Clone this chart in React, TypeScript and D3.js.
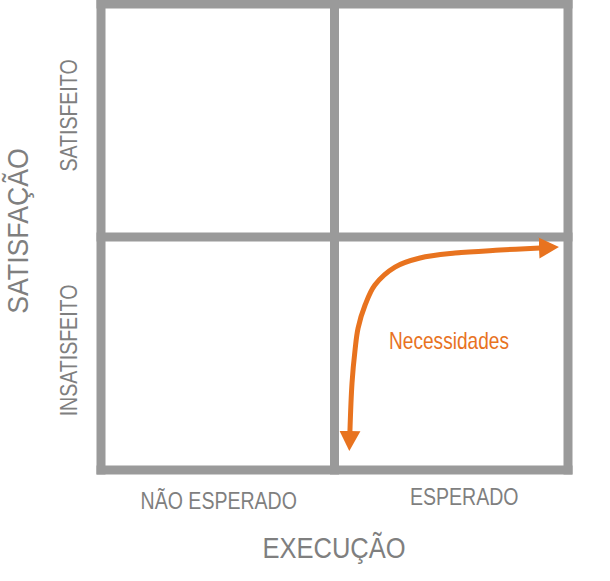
import React from 'react'
import * as d3 from 'd3'

// quadrant categories
const execucao = ['NÃO ESPERADO', 'ESPERADO']
const satisfacao = ['INSATISFEITO', 'SATISFEITO']
const xTitle = 'EXECUÇÃO'
const yTitle = 'SATISFAÇÃO'
const curveLabel = 'Necessidades'

// "Necessidades" curve, in quadrant units (0..2 on each axis)
const curveX = [1.066, 1.075, 1.088, 1.101, 1.131, 1.173, 1.259, 1.366, 1.516, 1.709, 1.88]
const curveY = [0.163, 0.373, 0.515, 0.609, 0.708, 0.794, 0.871, 0.91, 0.931, 0.944, 0.953]

const W = 610
const H = 581
const GRID = '#9a9a9a'
const TEXT = '#7f7f7f'
const ORANGE = '#e8731f'
const FONT = '"Liberation Sans", Arial, sans-serif'
const NARROW = 0.85 // no narrow font installed, squeeze the regular one

export default function App() {
  const x = d3.scaleLinear().domain([0, 2]).range([101, 568])
  const y = d3.scaleLinear().domain([0, 2]).range([470, 4])

  const xBand = d3.scaleBand().domain(execucao).range([101, 568])
  const yBand = d3.scaleBand().domain(satisfacao).range([470, 4])

  const pts: [number, number][] = curveX.map((v, i) => [x(v), y(curveY[i])])
  const line = d3.line().curve(d3.curveCatmullRom.alpha(0.5))

  const ticks = [0, 1, 2]

  return (
    <svg
      width={W}
      height={H}
      style={{ position: 'absolute', left: 0, top: 0, background: '#fff' }}
      fontFamily={FONT}
    >
      <defs>
        <marker
          id="arrow"
          markerUnits="userSpaceOnUse"
          markerWidth={22}
          markerHeight={22}
          viewBox="0 -11 22 22"
          refX={1}
          refY={0}
          orient="auto-start-reverse"
        >
          <path d="M0,-10.5L20,0L0,10.5Z" fill={ORANGE} />
        </marker>
      </defs>

      {/* grid */}
      {ticks.map(t => (
        <line key={'v' + t} x1={x(t)} x2={x(t)} y1={y(0) + 4.5} y2={y(2) - 4.5} stroke={GRID} strokeWidth={9} />
      ))}
      {ticks.map(t => (
        <line key={'h' + t} x1={x(0) - 4.5} x2={x(2) + 4.5} y1={y(t)} y2={y(t)} stroke={GRID} strokeWidth={9} />
      ))}

      {/* curve */}
      <path
        d={line(pts) || ''}
        fill="none"
        stroke={ORANGE}
        strokeWidth={5}
        markerStart="url(#arrow)"
        markerEnd="url(#arrow)"
      />
      <text
        transform={`translate(449,349) scale(${NARROW - 0.02},1)`}
        textAnchor="middle"
        fill={ORANGE}
        fontSize={23}
      >
        {curveLabel}
      </text>

      {/* x categories */}
      {execucao.map((c, i) => (
        <text
          key={c}
          transform={`translate(${xBand(c)! + xBand.bandwidth() / 2 + (i === 0 ? 1 : 13)},${i === 0 ? 509 : 505}) scale(${NARROW},1)`}
          textAnchor="middle"
          fill={TEXT}
          fontSize={23}
        >
          {c}
        </text>
      ))}
      <text transform={`translate(334,558) scale(${NARROW},1)`} textAnchor="middle" fill={TEXT} fontSize={30}>
        {xTitle}
      </text>

      {/* y categories */}
      {satisfacao.map((c, i) => {
        const cy = yBand(c)! + yBand.bandwidth() / 2 + (i === 0 ? -3 : -5)
        return (
          <text
            key={c}
            transform={`translate(77,${cy}) rotate(-90) scale(${NARROW},1)`}
            textAnchor="middle"
            fill={TEXT}
            fontSize={23}
          >
            {c}
          </text>
        )
      })}
      <text transform="translate(28,231) rotate(-90) scale(0.89,1)" textAnchor="middle" fill={TEXT} fontSize={30}>
        {yTitle}
      </text>
    </svg>
  )
}
